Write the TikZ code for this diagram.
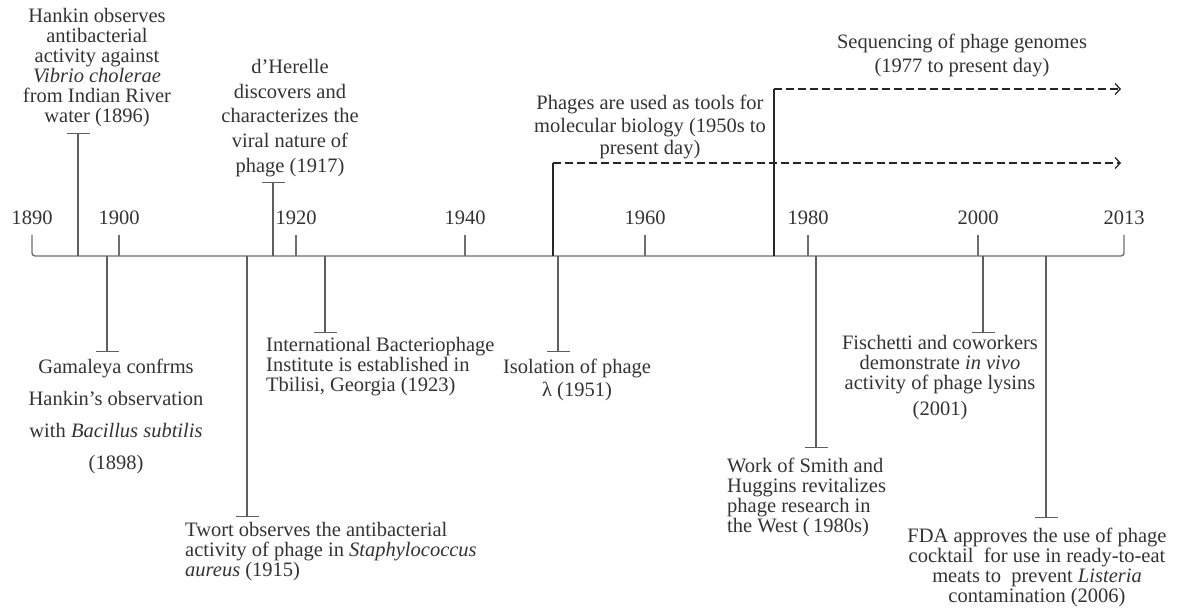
\documentclass[tikz,border=0pt]{standalone}
\usepackage{fontspec}
\setmainfont{Liberation Serif}
\usetikzlibrary{arrows.meta}
\definecolor{ink}{HTML}{333333}
\definecolor{axisgray}{HTML}{6E6E6E}
\definecolor{stemgray}{HTML}{5E5E5E}
\definecolor{darkline}{HTML}{262626}
\tikzset{
  lbl/.style={text=ink, inner sep=0pt, font=\fontsize{20.5}{20}\selectfont},
  yearlbl/.style={lbl},
  tickline/.style={draw=axisgray, line width=1.4pt},
  stemline/.style={draw=stemgray, line width=1.3pt, -{Bar[width=23pt, line width=1.3pt]}},
  solidstem/.style={draw=darkline, line width=1.3pt},
  dashline/.style={draw=darkline, line width=1.3pt, dash pattern=on 8pt off 4pt,
    -{Straight Barb[length=5pt, width=11pt, line width=1.3pt]}},
}
\begin{document}
\begin{tikzpicture}[x=1pt, y=-1pt]
\useasboundingbox (0,0) rectangle (1177,609);

% ---- years, ticks and axis ----
\foreach \yr/\x in {1890/32,1900/119,1920/296,1940/465,1960/645,1980/808,2000/978,2013/1124} {
  \node[yearlbl] (y\yr) at (\x,218) {\yr};
  \coordinate (k\yr) at (\x,235);
  \coordinate (b\yr) at (\x,256);
}
\draw[tickline, rounded corners=3pt] (k1890) -- (b1890) -- (b2013) -- (k2013);
\foreach \yr in {1900,1920,1940,1960,1980,2000} {
  \draw[tickline] (b\yr) -- (k\yr);
}

% ---- events above the axis ----
\node[lbl, align=center] (hankin) at (97,68)
  {Hankin observes\\antibacterial\\activity against\\\textit{Vibrio cholerae}\\from Indian River\\water (1896)};
\coordinate (hk0) at (78,256); \coordinate (hk1) at (78,133);
\draw[stemline] (hk0) -- (hk1);

\node[lbl, align=center, font=\fontsize{20.5}{24.7}\selectfont] (herelle) at (290,118)
  {d’Herelle\\discovers and\\characterizes the\\viral nature of\\phage (1917)};
\coordinate (dh0) at (273,256); \coordinate (dh1) at (273,182);
\draw[stemline] (dh0) -- (dh1);

\node[lbl, align=center, font=\fontsize{20.5}{22.5}\selectfont] (tools) at (650,127)
  {Phages are used as tools for\\molecular biology (1950s to\\present day)};
\coordinate (ph0) at (553,256); \coordinate (ph1) at (553,163); \coordinate (ph2) at (1121,163);
\draw[solidstem] (ph0) -- (ph1);
\draw[dashline] (ph1) -- (ph2);

\node[lbl, align=center, font=\fontsize{20.5}{24}\selectfont] (seq) at (962,55)
  {Sequencing of phage genomes\\(1977 to present day)};
\coordinate (sq0) at (774,256); \coordinate (sq1) at (774,89); \coordinate (sq2) at (1121,89);
\draw[solidstem] (sq0) -- (sq1);
\draw[dashline] (sq1) -- (sq2);

% ---- events below the axis ----
\node[lbl, align=center, font=\fontsize{20.5}{32}\selectfont] (gamaleya) at (116,416)
  {Gamaleya confrms\\Hankin’s observation\\with \textit{Bacillus subtilis}\\(1898)};
\coordinate (gm0) at (107,256); \coordinate (gm1) at (107,352);
\draw[stemline] (gm0) -- (gm1);

\node[lbl, align=left, anchor=west] (twort) at (185,552)
  {Twort observes the antibacterial\\activity of phage in \textit{Staphylococcus}\\\textit{aureus} (1915)};
\coordinate (tw0) at (247,256); \coordinate (tw1) at (247,517);
\draw[stemline] (tw0) -- (tw1);

\node[lbl, align=left, anchor=west] (ibi) at (266,367)
  {International Bacteriophage\\Institute is established in\\Tbilisi, Georgia (1923)};
\coordinate (ib0) at (325,256); \coordinate (ib1) at (325,333);
\draw[stemline] (ib0) -- (ib1);

\node[lbl, align=center, font=\fontsize{20.5}{23}\selectfont] (lambda) at (577,380)
  {Isolation of phage\\λ (1951)};
\coordinate (la0) at (558,256); \coordinate (la1) at (558,352);
\draw[stemline] (la0) -- (la1);

\node[lbl, align=left, anchor=west] (smith) at (727,497)
  {Work of Smith and\\Huggins revitalizes\\phage research in\\the West (\,1980s)};
\coordinate (sm0) at (816,256); \coordinate (sm1) at (816,448);
\draw[stemline] (sm0) -- (sm1);

\node[lbl, align=center] (fischetti) at (940,378)
  {Fischetti and coworkers\\demonstrate \textit{in vivo}\\activity of phage lysins\\[6pt](2001)};
\coordinate (fi0) at (983,256); \coordinate (fi1) at (983,333);
\draw[stemline] (fi0) -- (fi1);

\node[lbl, align=center] (fda) at (1037,567)
  {FDA approves the use of phage\\cocktail\ \ for use in ready-to-eat\\meats to\ \ prevent \textit{Listeria}\\contamination (2006)};
\coordinate (fd0) at (1046,256); \coordinate (fd1) at (1046,518);
\draw[stemline] (fd0) -- (fd1);
\end{tikzpicture}
\end{document}
